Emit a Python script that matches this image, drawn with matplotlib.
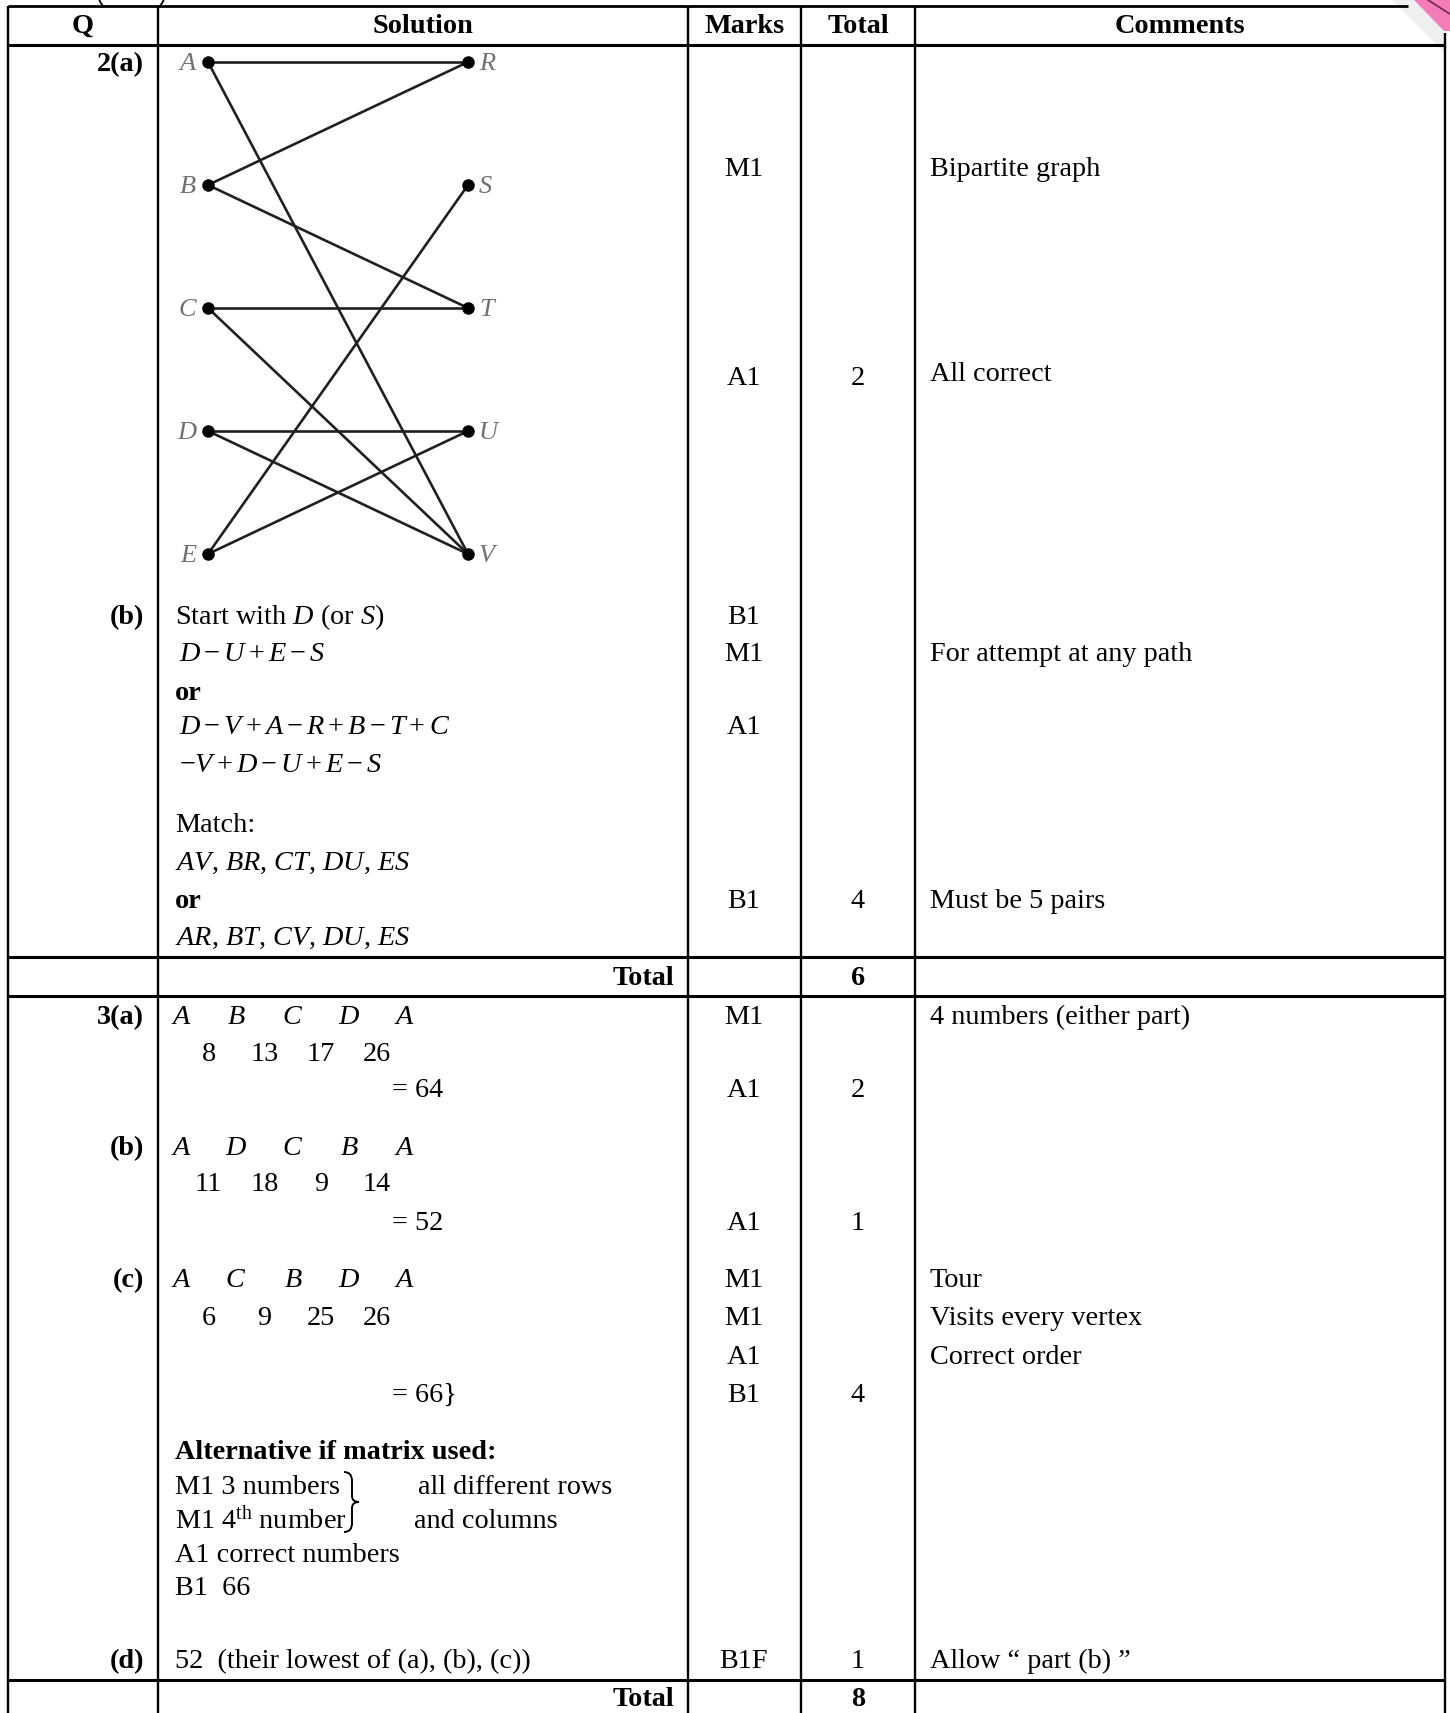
import matplotlib
matplotlib.use("Agg")
import numpy as np
import matplotlib.pyplot as plt
from matplotlib.path import Path
from matplotlib.patches import PathPatch, Polygon, Arc

plt.rcParams['font.family'] = ['Liberation Serif', 'DejaVu Serif']
plt.rcParams['mathtext.fontset'] = 'custom'
plt.rcParams['mathtext.rm'] = 'Liberation Serif'
plt.rcParams['mathtext.it'] = 'Liberation Serif:italic'
plt.rcParams['mathtext.bf'] = 'Liberation Serif:bold'

# ---------------- data ----------------
headers = ["Q", "Solution", "Marks", "Total", "Comments"]

left_nodes = ["A", "B", "C", "D", "E"]
right_nodes = ["R", "S", "T", "U", "V"]
edges = [("A", "R"), ("A", "V"), ("B", "R"), ("B", "T"), ("C", "T"),
         ("C", "V"), ("D", "U"), ("D", "V"), ("E", "S"), ("E", "U")]

q_labels = ["2(a)", "(b)", "3(a)", "(b)", "(c)", "(d)"]

q2b_lines = ["Start with $D$ (or $S$)", "$D-U+E-S$", "or",
             "$D-V+A-R+B-T+C$", "$-V+D-U+E-S$", "Match:",
             "$AV$, $BR$, $CT$, $DU$, $ES$", "or",
             "$AR$, $BT$, $CV$, $DU$, $ES$"]
q2b_bold = [False, False, True, False, False, False, False, True, False]

tours = [["A", "B", "C", "D", "A"],
         ["A", "D", "C", "B", "A"],
         ["A", "C", "B", "D", "A"]]
tour_weights = [[8, 13, 17, 26],
                [11, 18, 9, 14],
                [6, 9, 25, 26]]
tour_totals = ["= 64", "= 52", "= 66}"]

alt_lines = ["Alternative if matrix used:", "M1 3 numbers",
             "M1 4$^{\\rm th}$ number", "A1 correct numbers", "B1  66"]
alt_side = ["all different rows", "and columns"]
part_d = "52  (their lowest of (a), (b), (c))"

marks = ["M1", "A1", "B1", "M1", "A1", "B1",
         "M1", "A1", "A1", "M1", "M1", "A1", "B1", "B1F"]
totals = ["2", "4", "6", "2", "1", "4", "1", "8"]
totals_bold = [False, False, True, False, False, False, False, True]
comments = ["Bipartite graph", "All correct", "For attempt at any path",
            "Must be 5 pairs", "4 numbers (either part)", "Tour",
            "Visits every vertex", "Correct order", "Allow \u201c part (b) \u201d"]

# ---------------- layout ----------------
W, H = 1450, 1713
fig = plt.figure(figsize=(W / 100, H / 100), dpi=100)
ax = fig.add_axes([0, 0, 1, 1])
ax.set_xlim(0, W)
ax.set_ylim(H, 0)
ax.axis('off')

FS = 20.3
BL = 9  # baseline offset from visual centre

col_x = [8, 158, 688, 801, 915, 1445]
hl_y = [45, 957, 995.5, 1679.5]

def txt(x, y, s, ha='left', bold=False, size=FS, **kw):
    ax.text(x, y + BL, s, ha=ha, va='baseline', fontsize=size,
            fontweight='bold' if bold else 'normal', color='black', **kw)

# grid lines
for i, x in enumerate(col_x):
    y0 = 33 if i == len(col_x) - 1 else 6
    ax.plot([x, x], [y0, H], color='black', lw=1.7, solid_capstyle='butt')
ax.plot([col_x[0], 1408], [6, 6], color='black', lw=2.0, solid_capstyle='butt')
for y in hl_y:
    ax.plot([col_x[0], col_x[-1]], [y, y], color='black', lw=2.2,
            solid_capstyle='butt')

# bottoms of the cut-off heading brackets above the table
ax.add_patch(Arc((110, -8), 24, 34, theta1=110, theta2=180,
                 color='black', lw=1.3))
ax.add_patch(Arc((153, -8), 24, 34, theta1=0, theta2=70,
                 color='black', lw=1.3))

# pink tab in the corner with shadow
ax.add_patch(Polygon([(1392, 0), (1414, 0), (1444, 31), (1444, 52)],
                     closed=True, facecolor='#ececec', edgecolor='none',
                     alpha=0.8))
ax.add_patch(Polygon([(1414, 0), (1450, 0), (1450, 31), (1444, 31)],
                     closed=True, facecolor='#f47cb7', edgecolor='none'))
ax.plot([1428, 1450], [0, 14], color='#6b2a48', lw=1.2)

# headers
col_centres = [(col_x[i] + col_x[i + 1]) / 2 for i in range(5)]
for c, h in zip(col_centres, headers):
    txt(c, 24, h, ha='center', bold=True)

# question labels
q_y = [62, 615, 1015, 1146, 1278, 1659]
for y, s in zip(q_y, q_labels):
    txt(144, y, s, ha='right', bold=True)

# bipartite graph
lx, rx, gy0, gdy = 208, 468, 62, 123
pos = {}
for i, n in enumerate(left_nodes):
    pos[n] = (lx, gy0 + i * gdy)
for i, n in enumerate(right_nodes):
    pos[n] = (rx, gy0 + i * gdy)
for a, b in edges:
    ax.plot([pos[a][0], pos[b][0]], [pos[a][1], pos[b][1]],
            color='#202020', lw=1.9, zorder=2)
for n, (x, y) in pos.items():
    ax.plot(x, y, 'o', color='black', ms=8, zorder=3)
    if n in left_nodes:
        ax.text(x - 12, y + 2, n, ha='right', va='center', fontsize=19,
                style='italic', color='#707070')
    else:
        ax.text(x + 11, y + 2, n, ha='left', va='center', fontsize=19,
                style='italic', color='#707070')

# Q2(b) solution lines
q2b_y = [615, 652, 691, 725, 763, 823, 861, 899, 936]
for y, s, b in zip(q2b_y, q2b_lines, q2b_bold):
    x = 179 if s.startswith("$D") or s.startswith("$-") else 175
    txt(x, y, s, bold=b)
txt(674, 976, "Total", ha='right', bold=True)
txt(674, 1697, "Total", ha='right', bold=True)

# Q3 tours
letter_x = [181, 236, 293, 349, 404]
tour_y = [1015, 1146, 1278]
weight_y = [1052, 1182, 1316]
total_y = [1088, 1221, 1393]
for t, w, tot, ty, wy, sy in zip(tours, tour_weights, tour_totals,
                                  tour_y, weight_y, total_y):
    for x, letter in zip(letter_x, t):
        txt(x, ty, "$" + letter + "$", ha='center')
    for i, val in enumerate(w):
        txt((letter_x[i] + letter_x[i + 1]) / 2, wy, str(val), ha='center')
    txt(392, sy, tot, ha='left')

alt_y = [1450, 1485, 1519, 1553, 1586]
for i, (y, s) in enumerate(zip(alt_y, alt_lines)):
    txt(175, y, s, bold=(i == 0))
txt(418, 1485, alt_side[0])
txt(414, 1519, alt_side[1])
txt(175, 1659, part_d)

# brace joining the two M1 lines
bx, by0, by1 = 352, 1472, 1532
bm = (by0 + by1) / 2
verts = [(bx - 8, by0), (bx, by0), (bx, by0 + 9),
         (bx, bm - 6),
         (bx, bm), (bx + 7, bm),
         (bx, bm), (bx, bm + 6),
         (bx, by1 - 9),
         (bx, by1), (bx - 8, by1)]
codes = [Path.MOVETO, Path.CURVE3, Path.CURVE3,
         Path.LINETO,
         Path.CURVE3, Path.CURVE3,
         Path.CURVE3, Path.CURVE3,
         Path.LINETO,
         Path.CURVE3, Path.CURVE3]
ax.add_patch(PathPatch(Path(verts, codes), facecolor='none',
                       edgecolor='black', lw=1.4))

# marks column
marks_y = [167, 376, 615, 652, 725, 899, 1015, 1088, 1221, 1278, 1316,
           1355, 1393, 1659]
for y, s in zip(marks_y, marks):
    txt(744, y, s, ha='center')

# totals column
totals_y = [376, 899, 976, 1088, 1221, 1393, 1659, 1697]
for y, s, b in zip(totals_y, totals, totals_bold):
    txt(858, y, s, ha='center', bold=b)

# comments column
comments_y = [167, 372, 652, 899, 1015, 1278, 1316, 1355, 1659]
for y, s in zip(comments_y, comments):
    txt(930, y, s)

fig.savefig("out.png", dpi=100, facecolor='white')
